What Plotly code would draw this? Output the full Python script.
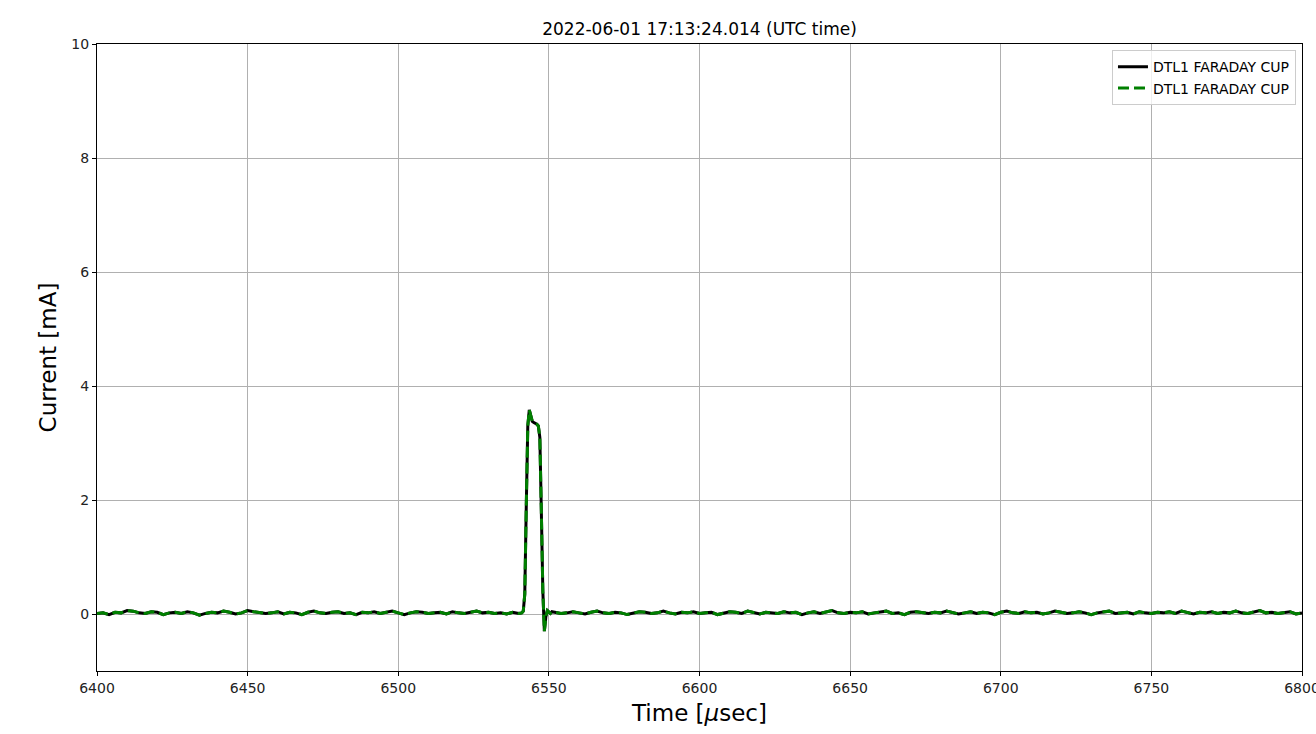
import numpy as np
import plotly.graph_objects as go

title_text = "2022-06-01 17:13:24.014 (UTC time)"
series_names = ["DTL1 FARADAY CUP", "DTL1 FARADAY CUP"]

# baseline before pulse: t = 6400..6540 step 2 us
base1_t = np.arange(6400, 6541, 2)
base1_v = [0.01, 0.02, -0.01, 0.03, 0.02, 0.06, 0.05, 0.02, 0.01, 0.04,
           0.03, -0.01, 0.02, 0.03, 0.01, 0.04, 0.02, -0.02, 0.01, 0.03,
           0.02, 0.05, 0.03, 0.00, 0.02, 0.06, 0.04, 0.03, 0.01, 0.02,
           0.04, 0.00, 0.03, 0.02, -0.01, 0.03, 0.05, 0.02, 0.01, 0.03,
           0.04, 0.01, 0.02, -0.01, 0.03, 0.02, 0.04, 0.01, 0.03, 0.05,
           0.02, -0.01, 0.02, 0.04, 0.03, 0.01, 0.02, 0.03, 0.00, 0.04,
           0.02, 0.01, 0.03, 0.05, 0.02, 0.03, 0.01, 0.02, 0.00, 0.03,
           0.01]

# pulse region: t = 6541..6551 step 0.5 us
pulse_t = np.arange(6541, 6551.01, 0.5)
pulse_v = [0.02, 0.05, 0.35, 1.9, 3.3, 3.58, 3.45, 3.38, 3.36, 3.35,
           3.33, 3.30, 3.1, 1.8, 0.4, -0.3, -0.05, 0.06, 0.03, 0.01, 0.04]

# baseline after pulse: t = 6552..6800 step 2 us
base2_t = np.arange(6552, 6801, 2)
base2_v = [0.03, 0.01, 0.02, 0.04, 0.02, 0.00, 0.03, 0.05, 0.02, 0.01,
           0.03, 0.02, -0.01, 0.02, 0.04, 0.03, 0.01, 0.02, 0.05, 0.02,
           0.00, 0.03, 0.02, 0.04, 0.01, 0.02, 0.03, -0.01, 0.02, 0.04,
           0.03, 0.01, 0.05, 0.02, 0.00, 0.03, 0.02, 0.01, 0.04, 0.02,
           0.03, -0.01, 0.02, 0.04, 0.01, 0.03, 0.06, 0.02, 0.01, 0.03,
           0.02, 0.04, 0.00, 0.02, 0.03, 0.05, 0.01, 0.02, -0.01, 0.03,
           0.04, 0.02, 0.01, 0.03, 0.02, 0.05, 0.03, 0.00, 0.02, 0.04,
           0.01, 0.03, 0.02, -0.01, 0.03, 0.05, 0.02, 0.01, 0.04, 0.02,
           0.03, 0.00, 0.02, 0.05, 0.03, 0.01, 0.02, 0.04, 0.02, -0.01,
           0.02, 0.03, 0.05, 0.01, 0.02, 0.03, 0.00, 0.04, 0.02, 0.01,
           0.03, 0.02, 0.04, 0.01, 0.05, 0.02, 0.00, 0.03, 0.02, 0.04,
           0.01, 0.03, 0.02, 0.05, 0.02, 0.01, 0.03, 0.06, 0.02, 0.03,
           0.01, 0.02, 0.04, 0.00, 0.02]

x_ticks = [6400, 6450, 6500, 6550, 6600, 6650, 6700, 6750, 6800]
y_ticks = [0, 2, 4, 6, 8, 10]

t = np.concatenate([base1_t, pulse_t, base2_t])
current = np.array(base1_v + pulse_v + base2_v)
current2 = current.copy()

FONT = "DejaVu Sans"
fig = go.Figure()
fig.add_trace(go.Scatter(x=t, y=current, mode="lines", name=series_names[0],
                         line=dict(color="black", width=3)))
fig.add_trace(go.Scatter(x=t, y=current2, mode="lines", name=series_names[1],
                         line=dict(color="green", width=3, dash="11px,5px")))

axis_common = dict(showline=True, linecolor="black", linewidth=1, mirror=True,
                   ticks="outside", ticklen=4, tickcolor="black", tickwidth=1,
                   showgrid=True, gridcolor="#b0b0b0", gridwidth=0.8,
                   zeroline=False, ticklabeloverflow="allow", automargin=False,
                   tickfont=dict(family=FONT, size=14, color="#222222"))

fig.update_layout(
    width=1316, height=734,
    margin=dict(l=97, r=14, t=44, b=63),
    paper_bgcolor="white", plot_bgcolor="white",
    title=dict(text=title_text, x=(97 + 1302) / 2 / 1316, xanchor="center",
               y=1 - 29 / 734, yanchor="middle",
               font=dict(family=FONT, size=17, color="black")),
    xaxis=dict(range=[6400, 6800], tickvals=x_ticks,
               title=dict(text="Time [<i>μ</i>sec]", font=dict(family=FONT, size=23, color="black"), standoff=10),
               **axis_common),
    yaxis=dict(range=[-1, 10], tickvals=y_ticks,
               title=dict(text="Current [mA]", font=dict(family=FONT, size=23, color="black"), standoff=8),
               **axis_common),
    legend=dict(x=0.995, y=0.99, xanchor="right", yanchor="top",
                bgcolor="rgba(255,255,255,0.8)", bordercolor="#cccccc", borderwidth=1,
                font=dict(family=FONT, size=14, color="black"),
                tracegroupgap=0, itemwidth=30),
    showlegend=True,
)

fig.write_html("out.html", config={"displayModeBar": False},
               post_script="document.body.style.margin='0px';")
